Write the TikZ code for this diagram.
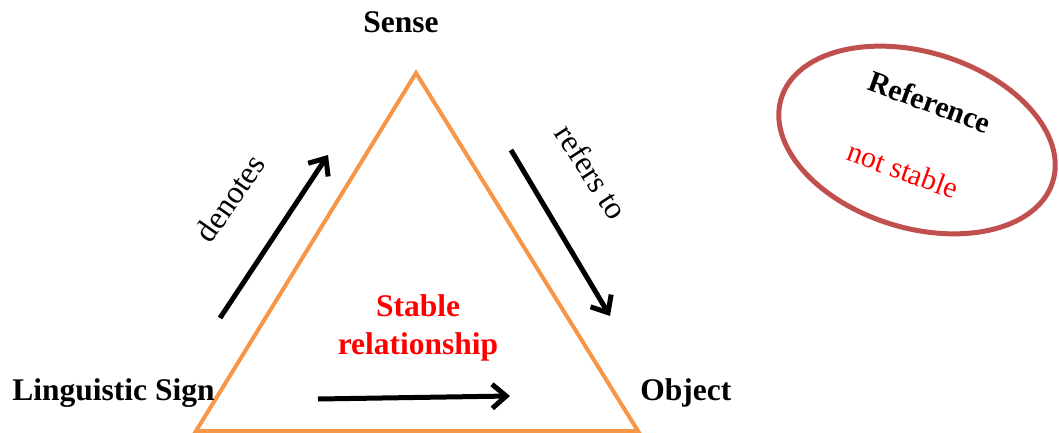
\documentclass[tikz,border=0pt]{standalone}
\usepackage{fontspec}
\setmainfont{Liberation Serif}
\usetikzlibrary{arrows.meta,shapes.geometric}
\definecolor{triorange}{RGB}{247,150,70}
\definecolor{ovalred}{RGB}{192,80,77}

\begin{document}
\begin{tikzpicture}[
    x=0.5pt, y=-0.5pt,
    corner/.style={
        font=\fontsize{15.75}{19}\selectfont\bfseries,
        inner sep=0pt,
        anchor=base west
    },
    verb/.style={
        font=\fontsize{16}{19}\selectfont,
        inner sep=0pt
    },
    relation/.style={
        line width=2.5pt,
        -{Straight Barb[length=7pt, width=12pt]}
    },
    triangle/.style={
        draw=triorange,
        line width=2pt
    },
    oval/.style={
        ellipse,
        draw=ovalred,
        line width=2.5pt,
        minimum width=142pt,
        minimum height=88pt,
        inner sep=0pt,
        rotate=-17
    }
]
    \useasboundingbox (0,0) rectangle (1059,433);

    % triangle
    \coordinate (apex) at (416,73);
    \coordinate (left) at (196,431);
    \coordinate (right) at (638,431);
    \draw[triangle] (apex) -- (left) -- (right) -- cycle;

    \foreach \name/\x/\y/\txt in {
        sense/363/33/Sense,
        sign/12/400/Linguistic Sign,
        object/640/400/Object%
    } {
        \node[corner] (\name) at (\x, \y) {\txt};
    }

    \node[corner, anchor=center, text=red, align=center] (stable) at (418,328)
        {Stable\\relationship};

    % arrows
    \foreach \u/\ux/\uy/\v/\vx/\vy in {
        d1/220/318/d2/328/155,
        r1/511/150/r2/610/316,
        s1/318/399/s2/510/396%
    } {
        \coordinate (\u) at (\ux, \uy);
        \coordinate (\v) at (\vx, \vy);
        \draw[relation] (\u) -- (\v);
    }

    \node[verb, rotate=55] (denotes) at (230,198) {denotes};
    \node[verb, rotate=-57] (refers) at (592,172) {refers to};

    % reference
    \node[oval] (ref) at (917,140) {};
    \node[verb, font=\fontsize{15}{18}\selectfont\bfseries, rotate=-20] (reflabel) at (930,102) {Reference};
    \node[verb, font=\fontsize{15}{18}\selectfont, text=red, rotate=-20] (notstable) at (903,170) {not stable};

\end{tikzpicture}
\end{document}
